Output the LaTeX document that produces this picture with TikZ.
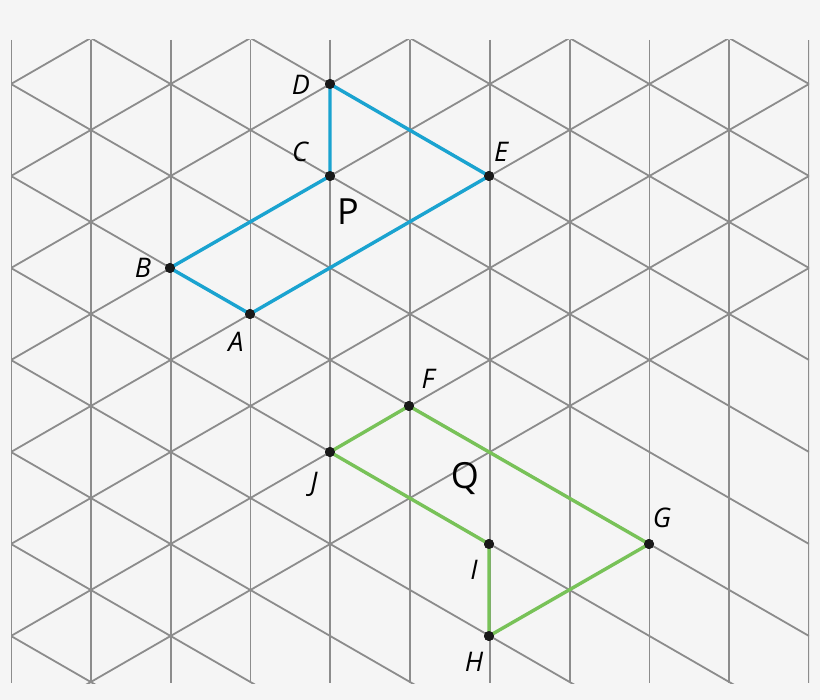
\documentclass[tikz,border=0pt]{standalone}
\usepackage{fontspec}
\setmainfont{Open Sans}
\begin{document}
\begin{tikzpicture}[x=1pt,y=-1pt,
  grid/.style={draw={rgb,255:red,140;green,140;blue,140}, line width=1.8pt},
  blu/.style={draw={rgb,255:red,26;green,163;blue,208}, line width=3.4pt},
  grn/.style={draw={rgb,255:red,120;green,194;blue,88}, line width=3.4pt},
  dot/.style={circle, fill=black!90, inner sep=0pt, minimum size=10pt},
  lab/.style={font=\fontsize{27}{27}\selectfont\itshape},
  big/.style={font=\fontsize{36}{36}\selectfont}]
\fill[black!4] (0,0) rectangle (820,700);
\useasboundingbox (0,0) rectangle (820,700);
\begin{scope}
\clip (11,40) rectangle (809,683);
\foreach \i in {0,...,10} \draw[grid] (11+79.8*\i,40) -- (11+79.8*\i,683);
\foreach \k in {-7,...,7} {
  \draw[grid] (11,84+92*\k) -- (809,544+92*\k);
  \draw[grid] (11,84+92*\k) -- (809,-376+92*\k);
}
\end{scope}
\node[dot] (D) at (330,84) {};
\node[dot] (C) at (330,176) {};
\node[dot] (E) at (489,176) {};
\node[dot] (B) at (170,268) {};
\node[dot] (A) at (250,314) {};
\node[dot] (F) at (409,406) {};
\node[dot] (J) at (330,452) {};
\node[dot] (G) at (649,544) {};
\node[dot] (I) at (489,544) {};
\node[dot] (H) at (489,636) {};
\draw[blu] (D.center) -- (E.center) -- (A.center) -- (B.center) -- (C.center) -- (D.center);
\draw[grn] (F.center) -- (G.center) -- (H.center) -- (I.center) -- (J.center) -- (F.center);
\foreach \p in {D,C,E,B,A,F,J,G,I,H} \node[dot] at (\p) {};
\node[lab] (lD) at (301,85) {D};
\node[lab] (lC) at (300,152) {C};
\node[lab] (lE) at (501,152) {E};
\node[lab] (lB) at (143,268) {B};
\node[lab] (lA) at (236,342) {A};
\node[lab] (lF) at (428,379) {F};
\node[lab] (lJ) at (314,484) {J};
\node[lab] (lG) at (662,518) {G};
\node[lab] (lI) at (474,570) {I};
\node[lab] (lH) at (474,662) {H};
\node[big] (P) at (348,212) {P};
\node[big] (Q) at (465,479) {Q};
\end{tikzpicture}
\end{document}
